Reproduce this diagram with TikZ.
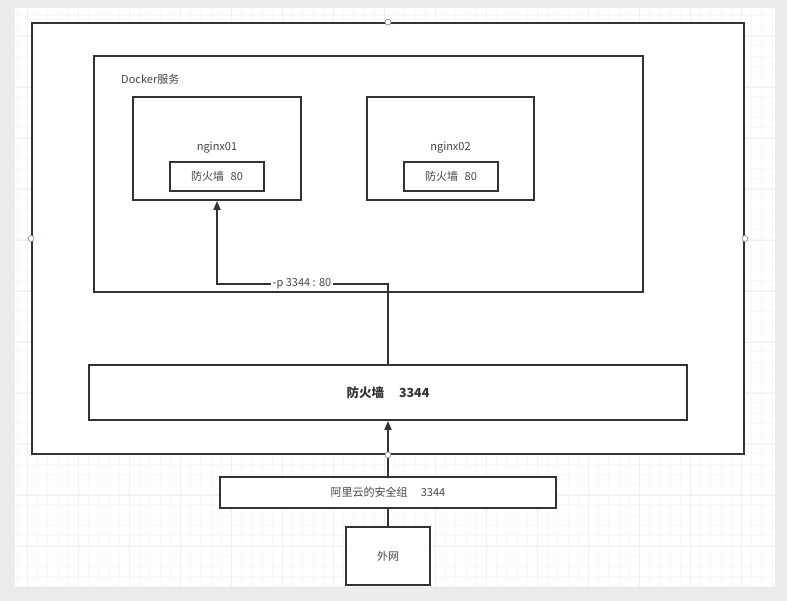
\documentclass[tikz,border=0pt]{standalone}
\usepackage{fontspec}
\setmainfont{Noto Sans CJK SC}
\usetikzlibrary{arrows.meta}
\definecolor{linec}{HTML}{333333}
\definecolor{txtc}{HTML}{454545}
\definecolor{handle}{HTML}{A07878}
\tikzset{
  box/.style={draw=linec, line width=1.8pt, fill=white, inner sep=0pt, rectangle},
  lbl/.style={text=txtc, font=\fontsize{11}{13}\selectfont, inner sep=1pt},
  conn/.style={draw=linec, line width=1.8pt},
  arr/.style={conn, -{Triangle[length=9pt,width=7pt]}},
  hdl/.style={circle, draw=handle, fill=white, line width=0.6pt, minimum size=6pt, inner sep=0pt}
}
\begin{document}
\begin{tikzpicture}[x=1pt,y=-1pt]
\useasboundingbox (0,0) rectangle (787,601);
\fill[black!8] (0,0) rectangle (787,601);
\fill[white] (15,8) rectangle (775,587);
\begin{scope}
\clip (15,8) rectangle (775,587);
\foreach \i in {0,...,76} {\draw[black!3, line width=0.4pt] ({17+10.2*\i},8) -- ({17+10.2*\i},587);}
\foreach \i in {0,...,57} {\draw[black!3, line width=0.4pt] (15,{15+10.2*\i}) -- (775,{15+10.2*\i});}
\foreach \i in {0,...,15} {\draw[black!6, line width=0.5pt] ({27+51*\i},8) -- ({27+51*\i},587);}
\foreach \i in {0,...,11} {\draw[black!6, line width=0.5pt] (15,{36+51*\i}) -- (775,{36+51*\i});}
\end{scope}
% boxes
\node[box, minimum width=712, minimum height=431] (outer) at (388,238.5) {};
\node[box, minimum width=549, minimum height=236] (docker) at (368.5,174) {};
\node[lbl, anchor=west] (dockerlbl) at (120,79) {Docker服务};
\node[box, minimum width=168, minimum height=103] (n1) at (217,148.5) {};
\node[lbl] (n1lbl) at (217,148) {nginx01};
\node[box, minimum width=94, minimum height=29] (n1fw) at (217,176.5) {};
\node[lbl] (n1fwlbl) at (217,176.5) {防火墙\hspace{0.6em}80};
\node[box, minimum width=167, minimum height=103] (n2) at (450.5,148.5) {};
\node[lbl] (n2lbl) at (450.5,148) {nginx02};
\node[box, minimum width=94, minimum height=29] (n2fw) at (451,176.5) {};
\node[lbl] (n2fwlbl) at (451,176.5) {防火墙\hspace{0.6em}80};
\node[box, minimum width=598, minimum height=55] (fw) at (388,392.5) {};
\node[lbl, font=\fontsize{12.5}{14}\selectfont\bfseries, text=linec] (fwlbl) at (388,393) {防火墙\hspace{1.2em}3344};
\node[box, minimum width=336, minimum height=31] (sg) at (388,492.5) {};
\node[lbl] (sglbl) at (388,492.5) {阿里云的安全组\hspace{1.2em}3344};
\node[box, minimum width=84, minimum height=58] (wan) at (388,556) {};
\node[lbl] (wanlbl) at (388,556) {外网};
% connectors
\coordinate (bend) at (388,284);
\draw[arr] (fw.north) -- (bend) -| (n1.south);
\node[lbl, fill=white, inner sep=1.5pt] (plbl) at (302,284) {-p 3344 : 80};
\draw[arr] (sg.north) -- (fw.south);
\draw[conn] (wan.north) -- (sg.south);
% selection handles
\node[hdl] (h1) at (outer.north) {};
\node[hdl] (h2) at (outer.west) {};
\node[hdl] (h3) at (outer.east) {};
\node[hdl] (h4) at (outer.south) {};
\end{tikzpicture}
\end{document}
